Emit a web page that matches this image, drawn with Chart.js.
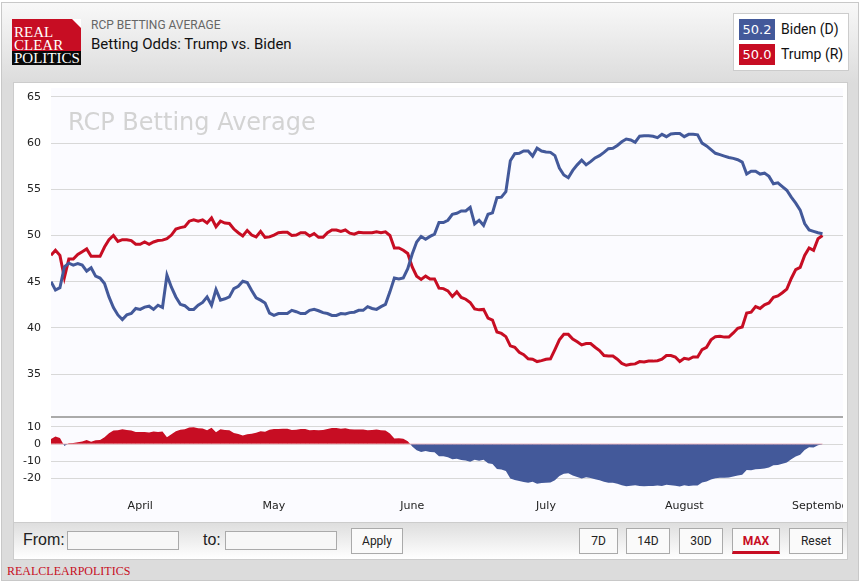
<!DOCTYPE html>
<html>
<head>
<meta charset="utf-8">
<title>Betting Odds: Trump vs. Biden</title>
<script src="https://cdn.jsdelivr.net/npm/chart.js@4"></script>
<style>
	html, body { margin: 0; padding: 0; width: 859px; height: 581px; overflow: hidden; background: #fff; font-family: Roboto, sans-serif; }
	#frame { position: absolute; left: 1px; top: 2px; width: 856px; height: 577px; border: 1px solid #c8c8c8; background: linear-gradient(#f8f8f8, #dcdcdc 80px, #dcdcdc); }
	#logo { position: absolute; left: 12px; top: 19px; width: 69px; height: 46px; overflow: hidden; font-family: "Liberation Serif", serif; color: #fff; background: #c70d23; }
	#logo .fold { position: absolute; right: 0; top: 0; border-style: solid; border-width: 0 9px 9px 0; border-color: transparent #fff transparent #8e0a1a; }
	#logo .word { position: absolute; left: 2px; font-size: 15px; line-height: 13px; letter-spacing: 0; }
	#logo .band { position: absolute; left: 0; top: 32px; width: 69px; height: 14px; background: #0a0a0a; }
	.abs { position: absolute; white-space: nowrap; }
	#legend { position: absolute; left: 733px; top: 13px; width: 114px; height: 56px; background: #fff; border: 1px solid #ccc; }
	.swatch { position: absolute; left: 5px; width: 36px; height: 21px; line-height: 21px; text-align: center; color: #fff; font: 13px/21px "DejaVu Sans", sans-serif; }
	.name { position: absolute; left: 47px; font-size: 14px; line-height: 21px; color: #111; white-space: nowrap; }
	#panel { position: absolute; left: 13px; top: 82px; width: 835px; height: 478px; background: #fff; border: 1px solid #ccc; box-sizing: border-box; }
	#plot { position: absolute; left: 13px; top: 82px; }
	#watermark { position: absolute; left: 68px; top: 107px; font: 24px/30px "DejaVu Sans", sans-serif; color: #d3d3d3; }
	#controls { position: absolute; left: 13px; top: 522px; width: 835px; height: 38px; box-sizing: border-box; border: 1px solid #ccc; background: linear-gradient(#dedede, #fff); }
	.lbl { position: absolute; font: 16px/20px "Liberation Sans", sans-serif; color: #222; }
	.inp { position: absolute; top: 531px; height: 19px; box-sizing: border-box; border: 1px solid #aaa; background: #f7f7f7; }
	.btn { position: absolute; top: 528px; height: 26px; box-sizing: border-box; border: 1px solid #aaa; background: #fafafa; text-align: center; font: 12px/24px Roboto, sans-serif; color: #222; }
	#maxBtn { color: #c70d23; font-weight: bold; border-bottom: 3px solid #c70d23; }
	#foot { position: absolute; left: 7px; top: 564px; font: 12px/15px "Liberation Serif", serif; color: #c70d23; }
</style>
</head>
<body>
<div id="frame"></div>
<div id="logo">
	<div class="fold"></div>
	<div class="word" style="top:7px">REAL</div>
	<div class="word" style="top:20px">CLEAR</div>
	<div class="band"></div>
	<div class="word" style="top:33px;left:2px">POLITICS</div>
</div>
<div class="abs" style="left:91px;top:18px;font-size:12px;line-height:15px;color:#666">RCP BETTING AVERAGE</div>
<div class="abs" style="left:91px;top:35px;font-size:15px;line-height:18px;color:#111">Betting Odds: Trump vs. Biden</div>
<div id="legend">
	<div class="swatch" style="top:5px;background:#43599a">50.2</div>
	<div class="name" style="top:5px">Biden (D)</div>
	<div class="swatch" style="top:30px;background:#c70d23">50.0</div>
	<div class="name" style="top:30px">Trump (R)</div>
</div>
<div id="panel"></div>
<canvas id="plot" width="830" height="440" style="width:830px;height:440px"></canvas>
<div id="watermark">RCP Betting Average</div>
<div id="controls"></div>
<div class="lbl" style="left:23px;top:530px">From:</div>
<div class="inp" style="left:67px;width:112px"></div>
<div class="lbl" style="left:203px;top:530px">to:</div>
<div class="inp" style="left:225px;width:112px"></div>
<div class="btn" style="left:351px;width:52px">Apply</div>
<div class="btn" style="left:579px;width:39px">7D</div>
<div class="btn" style="left:626px;width:44px">14D</div>
<div class="btn" style="left:679px;width:44px">30D</div>
<div class="btn" id="maxBtn" style="left:732px;width:48px">MAX</div>
<div class="btn" style="left:789px;width:54px">Reset</div>
<div id="foot">REALCLEARPOLITICS</div>

<script>
// Daily readings, March 12 to September 1
const biden = [
	45, 44.1, 44.35, 46.6, 47, 46.8, 46.95, 46.8, 46.15, 46.5, 45.6, 45.4, 44.8, 43.35, 42.2, 41.4, 40.9, 41.4, 41.55, 42.1,
	42, 42.25, 42.35, 42, 42.45, 42.2, 45.7, 44.4, 43.35, 42.55, 42.4, 42, 42, 42.45, 42.75, 43.35, 42.45, 44.15, 43, 43.15,
	43.35, 44.25, 44.5, 45.05, 44.9, 44.05, 43.25, 43, 42.7, 41.6, 41.35, 41.55, 41.55, 41.55, 41.9, 41.75, 41.55, 41.55, 41.9, 42,
	41.85, 41.65, 41.55, 41.35, 41.35, 41.55, 41.5, 41.65, 41.7, 41.9, 41.9, 42.3, 42.1, 42, 42.3, 42.55, 43.9, 45.4, 45.3, 45.4,
	46.4, 48, 49.3, 49.9, 49.6, 49.9, 50.15, 51.4, 51.4, 51.65, 52.3, 52.4, 52.65, 52.65, 53.05, 51.25, 51.65, 51.1, 52.3, 52.45,
	54.1, 54.15, 54.75, 58.1, 58.85, 58.9, 59.15, 59.15, 58.6, 59.45, 59.15, 59.05, 59, 58.65, 57.3, 56.55, 56.25, 57.05, 57.65, 58.15,
	57.65, 58, 58.4, 58.65, 59, 59.4, 59.45, 59.75, 60.15, 60.45, 60.35, 60.1, 60.75, 60.8, 60.8, 60.75, 60.6, 60.95, 60.7, 61,
	61.05, 61.05, 60.7, 60.95, 60.95, 60.9, 60, 59.7, 59.3, 58.9, 58.75, 58.6, 58.45, 58.35, 58.2, 57.95, 56.65, 56.95, 56.95, 56.65,
	56.75, 56.4, 55.6, 55.7, 55.3, 54.9, 54.15, 53.5, 52.75, 51.3, 50.6, 50.45, 50.3, 50.2
];
const trump = [
	47.85, 48.4, 47.85, 45.45, 47.45, 47.45, 47.95, 48.25, 48.55, 47.75, 47.75, 47.75, 48.75, 49.55, 50, 49.35, 49.55, 49.55, 49.45, 49.05,
	49.05, 49.3, 49.05, 49.3, 49.45, 49.5, 49.65, 50.05, 50.7, 50.85, 50.95, 51.55, 51.7, 51.55, 51.7, 51.35, 51.9, 50.95, 51.55, 51.35,
	51.3, 50.7, 50.3, 49.95, 50.55, 50.05, 49.85, 50.45, 49.8, 49.85, 50.05, 50.3, 50.35, 50.35, 50, 50.05, 50.3, 50.3, 49.95, 50.2,
	49.8, 49.8, 50.3, 50.6, 50.6, 50.45, 50.6, 50.25, 50.15, 50.35, 50.3, 50.3, 50.3, 50.4, 50.3, 50.4, 50, 48.65, 48.65, 48.4,
	48.05, 46.6, 45.6, 45.25, 45.6, 45.3, 45.3, 44.3, 44.25, 44, 43.4, 43.9, 43.3, 43.1, 42.75, 42.05, 41.95, 42, 41.05, 40.85,
	39.55, 39.4, 39.05, 38.05, 37.9, 37.35, 37.1, 36.65, 36.6, 36.35, 36.45, 36.6, 36.65, 37.65, 38.7, 39.3, 39.3, 38.8, 38.5, 38.15,
	38.3, 38.3, 37.9, 37.55, 37, 36.95, 36.95, 36.6, 36.15, 35.95, 36.05, 36.1, 36.35, 36.3, 36.4, 36.4, 36.45, 36.6, 37, 37,
	36.85, 36.35, 36.7, 36.6, 36.85, 36.85, 37.65, 37.9, 38.7, 39.05, 39.1, 39, 39, 39.45, 39.95, 40.1, 41.6, 41.7, 42.3, 42.1,
	42.5, 42.7, 43.3, 43.45, 43.8, 44.2, 45.35, 46.3, 46.55, 47.85, 48.65, 48.4, 49.65, 50
];
const spread = [
	2.85, 4.3, 3.5, -1.15, 0.45, 0.65, 1, 1.45, 2.4, 1.25, 2.15, 2.35, 3.95, 6.2, 7.8, 7.95, 8.65, 8.15, 7.9, 6.95,
	7.05, 7.05, 6.7, 7.3, 7, 7.3, 3.95, 5.65, 7.35, 8.3, 8.55, 9.55, 9.7, 9.1, 8.95, 8, 9.45, 6.8, 8.55, 8.2,
	7.95, 6.45, 5.8, 4.9, 5.65, 6, 6.6, 7.45, 7.1, 8.25, 8.7, 8.75, 8.8, 8.8, 8.1, 8.3, 8.75, 8.75, 8.05, 8.2,
	7.95, 8.15, 8.75, 9.25, 9.25, 8.9, 9.1, 8.6, 8.45, 8.45, 8.4, 8, 8.2, 8.4, 8, 7.85, 6.1, 3.25, 3.35, 3,
	1.65, -1.4, -3.7, -4.65, -4, -4.6, -4.85, -7.1, -7.15, -7.65, -8.9, -8.5, -9.35, -9.55, -10.3, -9.2, -9.7, -9.1, -11.25, -11.6,
	-14.55, -14.75, -15.7, -20.05, -20.95, -21.55, -22.05, -22.5, -22, -23.1, -22.7, -22.45, -22.35, -21, -18.6, -17.25, -16.95, -18.25, -19.15, -20,
	-19.35, -19.7, -20.5, -21.1, -22, -22.45, -22.5, -23.15, -24, -24.5, -24.3, -24, -24.4, -24.5, -24.4, -24.35, -24.15, -24.35, -23.7, -24,
	-24.2, -24.7, -24, -24.35, -24.1, -24.05, -22.35, -21.8, -20.6, -19.85, -19.65, -19.6, -19.45, -18.9, -18.25, -17.85, -15.05, -15.25, -14.65, -14.55,
	-14.25, -13.7, -12.3, -12.25, -11.5, -10.7, -8.8, -7.2, -6.2, -3.45, -1.95, -2.05, -0.65, -0.2
];

// Axis ticks
const monthNames = ['April', 'May', 'June', 'July', 'August', 'September'];
const monthDays = [20, 50, 81, 111, 142, 173];
const oddsTicks = [65, 60, 55, 50, 45, 40, 35];
const spreadTicks = [10, 0, -10, -20];

const RED = '#c70d23';
const BLUE = '#43599a';
const GRID = '#d8d8d8';

Chart.defaults.font.family = '"DejaVu Sans", sans-serif';
Chart.defaults.font.size = 11;
Chart.defaults.color = '#222';

// Pairs a series with its day number
function toPoints(values) {
	return values.map((v, i) => ({ x: i, y: v }));
}

function yAxis(min, max, weight, ticks) {
	return {
		type: 'linear',
		position: 'left',
		stack: 'odds',
		stackWeight: weight,
		min: min,
		max: max,
		border: { display: false },
		grid: { color: GRID, drawTicks: false },
		ticks: { padding: 10, autoSkip: false },
		afterBuildTicks: (s) => { s.ticks = ticks.map(v => ({ value: v })); },
		afterFit: (s) => { s.width = 38; s.paddingTop = 0; s.paddingBottom = 0; },
	};
}

// Plot background and the line between the two panes
const backdrop = {
	id: 'backdrop',
	beforeDraw(chart) {
		const { ctx, chartArea, height } = chart;
		ctx.save();
		ctx.fillStyle = '#fbfbff';
		ctx.fillRect(chartArea.left, chartArea.top, chartArea.width, height - chartArea.top);
		ctx.restore();
	},
	beforeDatasetsDraw(chart) {
		const { ctx, chartArea, scales } = chart;
		ctx.save();
		ctx.strokeStyle = '#aaaaaa';
		ctx.lineWidth = 2;
		ctx.beginPath();
		ctx.moveTo(chartArea.left, scales.y.bottom);
		ctx.lineTo(chartArea.right, scales.y.bottom);
		ctx.stroke();
		ctx.restore();
	},
};

new Chart(document.getElementById('plot'), {
	type: 'line',
	data: {
		datasets: [
			{ label: 'Biden (D)', data: toPoints(biden), yAxisID: 'y', borderColor: BLUE, borderWidth: 3, pointRadius: 0, order: 1 },
			{ label: 'Trump (R)', data: toPoints(trump), yAxisID: 'y', borderColor: RED, borderWidth: 3, pointRadius: 0, order: 2 },
			{ label: 'Baseline', data: toPoints(spread.map(() => 0)), yAxisID: 'ySpread', borderColor: '#eeb6bd', borderWidth: 1, pointRadius: 0, order: 3 },
			{
				label: 'Spread',
				data: toPoints(spread),
				yAxisID: 'ySpread',
				borderWidth: 0,
				pointRadius: 0,
				order: 4,
				fill: { target: 'origin', above: RED, below: BLUE },
			},
		],
	},
	options: {
		responsive: false,
		devicePixelRatio: 1,
		animation: false,
		layout: { padding: { top: 6, left: 0, right: 0, bottom: 0 } },
		plugins: { legend: { display: false }, tooltip: { enabled: false } },
		scales: {
			x: {
				type: 'linear',
				min: 0,
				max: 177.6,
				border: { display: false },
				grid: { display: false },
				ticks: {
					autoSkip: false,
					maxRotation: 0,
					padding: 0,
					callback: (v) => monthNames[monthDays.indexOf(v)],
				},
				afterBuildTicks: (s) => { s.ticks = monthDays.map(v => ({ value: v })); },
				afterFit: (s) => { s.height = 30; s.paddingLeft = 0; s.paddingRight = 0; },
			},
			// Stacked axes fill from the bottom up, so the lower pane comes first
			ySpread: yAxis(-27.9, 15.7, 75, spreadTicks),
			y: yAxis(30.35, 65.97, 329, oddsTicks),
		},
	},
	plugins: [backdrop],
});
</script>
</body>
</html>
